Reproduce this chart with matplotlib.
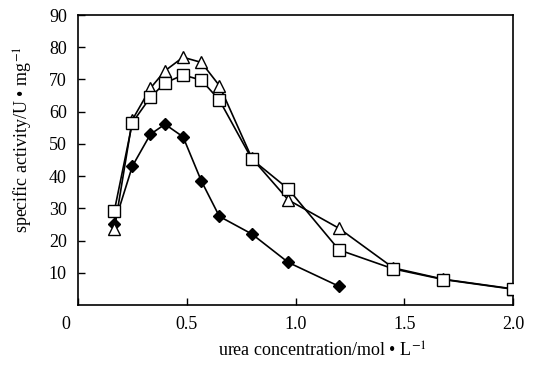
import matplotlib
matplotlib.use('Agg')
import matplotlib.pyplot as plt
import matplotlib.transforms as mtransforms

# urea concentration (mol/L)
x_diamond = [0.167, 0.25, 0.333, 0.40, 0.483, 0.567, 0.65, 0.80, 0.967, 1.20]
y_diamond = [25.2, 43.1, 53.0, 56.1, 52.2, 38.5, 27.5, 22.0, 13.2, 5.8]

x_triangle = [0.167, 0.25, 0.333, 0.40, 0.483, 0.567, 0.65, 0.80, 0.967, 1.20, 1.45, 1.68, 2.0]
y_triangle = [23.5, 57.5, 67.3, 72.7, 76.9, 75.3, 68.1, 45.5, 32.6, 23.8, 11.5, 8.0, 5.0]

x_square = [0.167, 0.25, 0.333, 0.40, 0.483, 0.567, 0.65, 0.80, 0.967, 1.20, 1.45, 1.68, 2.0]
y_square = [29.2, 56.6, 64.5, 68.9, 71.4, 69.8, 63.6, 45.2, 36.0, 17.1, 11.2, 7.9, 4.9]

x_ticks = [0, 0.5, 1.0, 1.5, 2.0]
x_ticklabels = ['0', '0.5', '1.0', '1.5', '2.0']
y_ticks = [10, 20, 30, 40, 50, 60, 70, 80, 90]

plt.rcParams['font.family'] = ['Liberation Serif', 'DejaVu Serif']
plt.rcParams['mathtext.fontset'] = 'stix'

fig = plt.figure(figsize=(5.44, 3.67), dpi=100)
ax = fig.add_axes([0.1434, 0.169, 0.7996, 0.790])

ax.plot(x_diamond, y_diamond, color='black', linewidth=1.2, marker='D',
        markersize=6.5, markerfacecolor='black', markeredgecolor='black', zorder=3)
ax.plot(x_triangle, y_triangle, color='black', linewidth=1.2, marker='^',
        markersize=9, markerfacecolor='white', markeredgecolor='black',
        markeredgewidth=1.0, zorder=4)
ax.plot(x_square, y_square, color='black', linewidth=1.2, marker='s',
        markersize=8.5, markerfacecolor='white', markeredgecolor='black',
        markeredgewidth=1.0, zorder=5)

ax.set_xlim(0, 2.0)
ax.set_ylim(0, 90)
ax.set_xticks(x_ticks)
ax.set_xticklabels(x_ticklabels)
ax.set_yticks(y_ticks)
ax.tick_params(direction='in', length=5, width=1.0, labelsize=13, pad=8)
for s in ax.spines.values():
    s.set_linewidth(1.2)

# the "0" label sits a bit left of the corner in the original
lbl0 = ax.get_xticklabels()[0]
lbl0.set_transform(lbl0.get_transform() + mtransforms.ScaledTranslation(-0.12, 0, fig.dpi_scale_trans))

ax.set_xlabel('urea concentration/mol • L$^{-1}$', fontsize=13)
ax.set_ylabel('specific activity/U • mg$^{-1}$', fontsize=13)
ax.xaxis.set_label_coords(0.561, -0.125)
ax.yaxis.set_label_coords(-0.10, 0.569)

fig.savefig('out.png', dpi=100)
